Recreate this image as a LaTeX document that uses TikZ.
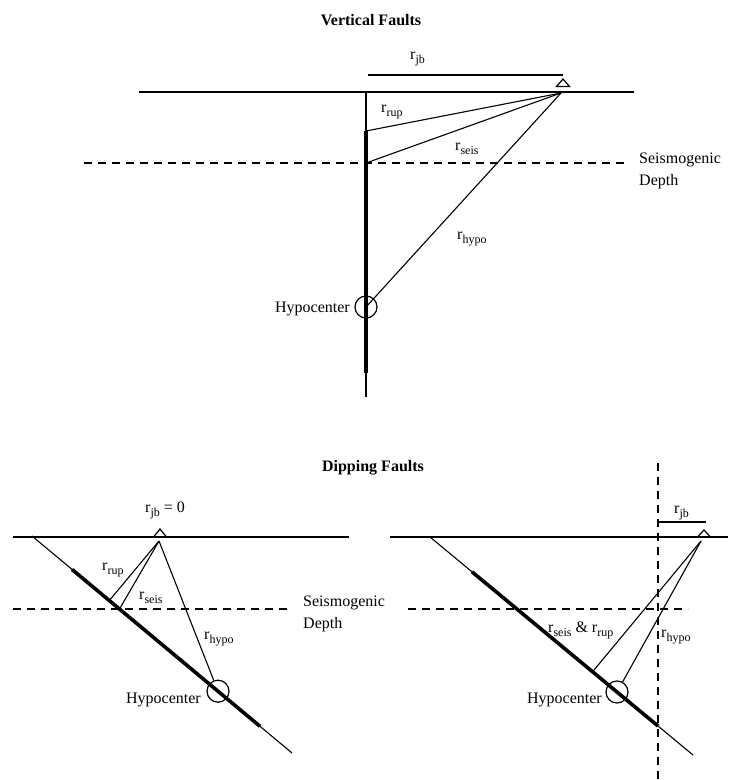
\documentclass[tikz,border=0pt]{standalone}
\usepackage{fontspec}
\setmainfont{Liberation Serif}
\usetikzlibrary{calc}
\newcommand{\mysub}[1]{\raisebox{-4pt}{\fontsize{12}{12}\selectfont #1}}
\begin{document}
\begin{tikzpicture}[x=1pt,y=-1pt,
  thinline/.style={line width=1.1pt},
  groundline/.style={line width=1.2pt},
  faultthick/.style={line width=3.6pt},
  jbbar/.style={line width=2.4pt},
  dashline/.style={line width=1.1pt, dash pattern=on 8pt off 6pt},
  lbl/.style={inner sep=0pt, font=\fontsize{16}{19}\selectfont},
  hypo/.style={circle, draw, line width=1.2pt, minimum size=22pt, inner sep=0pt},
  stationtri/.style={draw, line width=1.2pt, line join=miter}
]
\useasboundingbox (0,0) rectangle (730,780);

% ================= Vertical faults =================
\node[lbl, anchor=base] (t1) at (371,25) {\textbf{Vertical Faults}};

\coordinate (g1L) at (139,92);
\coordinate (g1R) at (634,92);
\draw[groundline] (g1L) -- (g1R);

\coordinate (d1L) at (84,163);
\coordinate (d1R) at (628,163);
\draw[dashline] (d1L) -- (d1R);

\coordinate (jb1L) at (368,75);
\coordinate (jb1R) at (563,75);
\draw[jbbar] (jb1L) -- (jb1R);

\coordinate (T1a) at (563,79);
\coordinate (T1b) at (556.5,86.5);
\coordinate (T1c) at (569.5,86.5);
\draw[stationtri] (T1a) -- (T1b) -- (T1c) -- cycle;

\coordinate (S1) at (561,93);
\coordinate (f1top) at (366,92);
\coordinate (f1a) at (366,131);
\coordinate (f1s) at (366,163);
\coordinate (f1b) at (366,373);
\coordinate (f1bot) at (366,397);
\draw[thinline] (f1top) -- (f1bot);
\draw[faultthick] (f1a) -- (f1b);

\node[hypo] (H1) at (366,307) {};

\draw[thinline] (S1) -- (f1a);
\draw[thinline] (S1) -- (f1s);
\draw[thinline] (S1) -- (H1.center);

\node[lbl, anchor=base west] (l1jb) at (410,59) {r\mysub{jb}};
\node[lbl, anchor=base west] (l1rup) at (381,112) {r\mysub{rup}};
\node[lbl, anchor=base west] (l1seis) at (455,150) {r\mysub{seis}};
\node[lbl, anchor=base west] (l1hypo) at (457,239) {r\mysub{hypo}};
\node[lbl, anchor=base east] (l1hc) at (350,312) {Hypocenter};
\node[lbl, anchor=base west] (l1sd1) at (639,163) {Seismogenic};
\node[lbl, anchor=base west] (l1sd2) at (639,185) {Depth};

% ================= Dipping faults =================
\node[lbl, anchor=base] (t2) at (373,471) {\textbf{Dipping Faults}};

% ---- left ----
\coordinate (g2L) at (13,537);
\coordinate (g2R) at (349,537);
\draw[groundline] (g2L) -- (g2R);

\coordinate (d2L) at (13,609);
\coordinate (d2R) at (290,609);
\draw[dashline] (d2L) -- (d2R);

\coordinate (T2a) at (160,529);
\coordinate (T2b) at (153.5,537);
\coordinate (T2c) at (166.5,537);
\draw[stationtri] (T2a) -- (T2b) -- (T2c) -- cycle;

\coordinate (S2) at (159,541);
\coordinate (F2a) at (32,536);
\coordinate (F2b) at (292,753);
\coordinate (F2ta) at (72,569.4);
\coordinate (F2tb) at (260,726.3);
\draw[thinline] (F2a) -- (F2b);
\draw[faultthick] (F2ta) -- (F2tb);

\node[hypo] (H2) at (218,691.2) {};
\coordinate (R2rup) at ($(F2a)!(S2)!(F2b)$);
\coordinate (R2seis) at (119.5,609);

\draw[thinline] (S2) -- (R2rup);
\draw[thinline] (S2) -- (R2seis);
\draw[thinline] (S2) -- (H2);

\node[lbl, anchor=base west] (l2jb) at (145,512) {r\mysub{jb} = 0};
\node[lbl, anchor=base west] (l2rup) at (102,570) {r\mysub{rup}};
\node[lbl, anchor=base west] (l2seis) at (139,599) {r\mysub{seis}};
\node[lbl, anchor=base west] (l2hypo) at (204,639) {r\mysub{hypo}};
\node[lbl, anchor=base east] (l2hc) at (201,703) {Hypocenter};
\node[lbl, anchor=base west] (l2sd1) at (303,606) {Seismogenic};
\node[lbl, anchor=base west] (l2sd2) at (303,628) {Depth};

% ---- right ----
\coordinate (g3L) at (390,537);
\coordinate (g3R) at (728,537);
\draw[groundline] (g3L) -- (g3R);

\coordinate (d3L) at (408,609);
\coordinate (d3R) at (688,609);
\draw[dashline] (d3L) -- (d3R);

\coordinate (v3T) at (658,463);
\coordinate (v3B) at (658,780);
\draw[dashline] (v3T) -- (v3B);

\coordinate (jb3L) at (658,522);
\coordinate (jb3R) at (706,522);
\draw[line width=1.4pt] (jb3L) -- (jb3R);

\coordinate (T3a) at (704,530);
\coordinate (T3b) at (697.5,537);
\coordinate (T3c) at (710.5,537);
\draw[stationtri] (T3a) -- (T3b) -- (T3c) -- cycle;

\coordinate (S3) at (701,541);
\coordinate (F3a) at (430,537);
\coordinate (F3b) at (693,755);
\coordinate (F3ta) at (472,571.8);
\coordinate (F3tb) at (658,726);
\draw[thinline] (F3a) -- (F3b);
\draw[faultthick] (F3ta) -- (F3tb);

\node[hypo] (H3) at (617,692) {};
\coordinate (R3rup) at ($(F3a)!(S3)!(F3b)$);

\draw[thinline] (S3) -- (R3rup);
\draw[thinline] (S3) -- (H3);

\node[lbl, anchor=base west] (l3jb) at (674,513) {r\mysub{jb}};
\node[lbl, anchor=base west] (l3sr) at (548,632) {r\mysub{seis} \& r\mysub{rup}};
\node[lbl, anchor=base west] (l3hypo) at (661,637) {r\mysub{hypo}};
\node[lbl, anchor=base east] (l3hc) at (602,703) {Hypocenter};
\end{tikzpicture}
\end{document}
